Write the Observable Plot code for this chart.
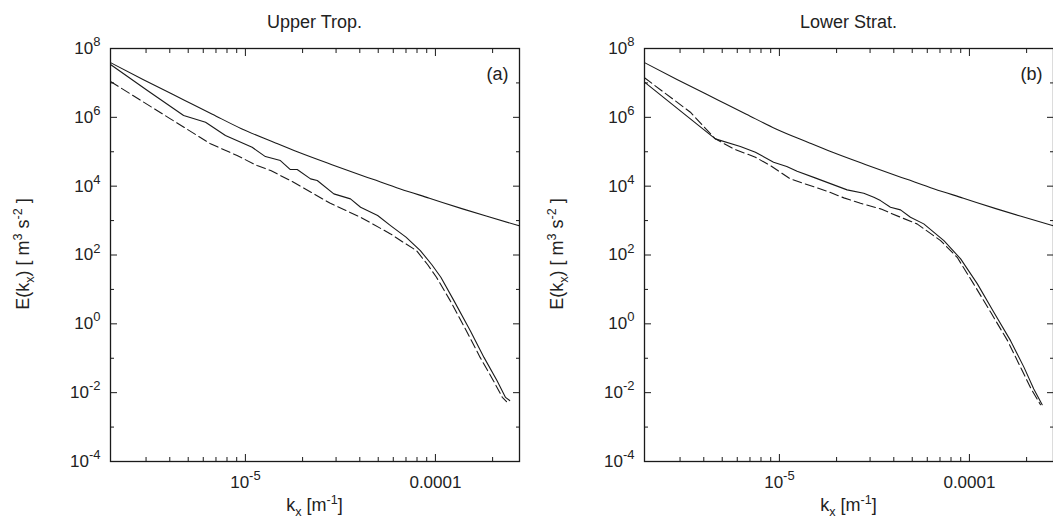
<!DOCTYPE html>
<html>
<head>
<meta charset="utf-8">
<script src="https://cdn.jsdelivr.net/npm/d3@7"></script>
<script src="https://cdn.jsdelivr.net/npm/@observablehq/plot@0.6"></script>
<style>
  html, body { margin: 0; padding: 0; background: #fff; overflow: hidden; }
  #wrap { position: relative; width: 1053px; height: 520px; overflow: hidden;
          font-family: "Liberation Sans", Arial, Helvetica, sans-serif; color: #222; }
  .panel { position: absolute; top: 0; width: 530px; height: 520px; }
  .title, .xlab { position: absolute; text-align: center; font-size: 18px; line-height: 18px; white-space: nowrap; }
  .title { top: 13px; }
  .xlab { top: 496px; }
  .ylab { position: absolute; top: 254px; font-size: 18px; line-height: 18px; white-space: nowrap;
          transform: translate(-50%, -50%) rotate(-90deg); }
  sup, sub { font-size: 0.7em; line-height: 0; }
</style>
</head>
<body>
<div id="wrap">
  <div id="left" class="panel" style="left:0px"></div>
  <div id="right" class="panel" style="left:530px"></div>
  <div class="title" style="left:110px;width:409px">Upper Trop.</div>
  <div class="title" style="left:644px;width:409px">Lower Strat.</div>
  <div class="xlab" style="left:110px;width:409px">k<sub>x</sub> [m<sup>-1</sup>]</div>
  <div class="xlab" style="left:644px;width:409px">k<sub>x</sub> [m<sup>-1</sup>]</div>
  <div class="ylab" style="left:23px">E(k<sub>x</sub>) [ m<sup>3</sup> s<sup>-2</sup> ]</div>
  <div class="ylab" style="left:557px">E(k<sub>x</sub>) [ m<sup>3</sup> s<sup>-2</sup> ]</div>
</div>
<script>
// ---- data ----
// reference spectrum (upper smooth solid line, same in both panels)
const refK = [1.95e-6, 2.89e-6, 4.80e-6, 6.70e-6, 9.53e-6, 1.42e-5, 1.89e-5, 2.83e-5, 4.69e-5, 6.54e-5, 9.30e-5, 1.39e-4, 1.85e-4, 2.76e-4];
const refE = [3.89e7, 1.26e7, 3.09e6, 1.23e6, 4.68e5, 1.86e5, 9.8e4, 4.27e4, 1.58e4, 8.3e3, 4.47e3, 2.19e3, 1.35e3, 708];

// (a) Upper Trop. solid
const aSolidK = [1.95e-6, 3.05e-6, 4.73e-6, 6.17e-6, 7.85e-6, 1.085e-5, 1.274e-5, 1.528e-5, 1.724e-5, 1.873e-5, 2.202e-5, 2.388e-5, 2.920e-5, 3.572e-5, 4.038e-5, 4.966e-5, 5.806e-5, 7.00e-5, 8.33e-5, 9.58e-5, 1.068e-4, 1.251e-4, 1.526e-4, 1.801e-4, 2.111e-4, 2.339e-4, 2.459e-4];
const aSolidE = [3.43e7, 6.01e6, 1.13e6, 7.21e5, 2.96e5, 1.35e5, 7.24e4, 5.55e4, 3.04e4, 3.04e4, 1.63e4, 1.46e4, 5.97e3, 4.28e3, 2.44e3, 1.4e3, 716, 330, 134, 52, 22.5, 4.72, 0.634, 0.106, 0.0223, 0.00729, 0.0059];
// (a) Upper Trop. dashed
const aDashK = [1.95e-6, 4.03e-6, 6.55e-6, 9.04e-6, 1.152e-5, 1.359e-5, 1.724e-5, 2.294e-5, 2.798e-5, 4.038e-5, 5.806e-5, 6.81e-5, 7.95e-5, 9.11e-5, 1.013e-4, 1.196e-4, 1.454e-4, 1.719e-4, 2.019e-4, 2.250e-4, 2.367e-4];
const aDashE = [1.10e7, 9.04e5, 1.70e5, 7.76e4, 3.97e4, 2.84e4, 1.46e4, 5.97e3, 3.18e3, 1.25e3, 410, 230, 134, 52, 22.5, 4.72, 0.634, 0.106, 0.0223, 0.0073, 0.0055];

// (b) Lower Strat. solid
const bSolidK = [1.95e-6, 4.60e-6, 6.23e-6, 7.48e-6, 9.32e-6, 1.093e-5, 1.239e-5, 1.541e-5, 2.272e-5, 2.779e-5, 3.139e-5, 3.403e-5, 3.841e-5, 4.339e-5, 4.894e-5, 5.75e-5, 7.34e-5, 8.99e-5, 1.101e-4, 1.344e-4, 1.646e-4, 1.938e-4, 2.181e-4, 2.415e-4];
const bSolidE = [1.05e7, 2.37e5, 1.42e5, 9.66e4, 4.95e4, 3.72e4, 2.71e4, 1.74e4, 7.80e3, 6.22e3, 4.75e3, 3.81e3, 2.44e3, 2.05e3, 1.25e3, 802, 262, 77.1, 14.5, 2.16, 0.325, 0.0543, 0.0128, 0.00448];
// (b) Lower Strat. dashed
const bDashK = [1.95e-6, 3.40e-6, 4.60e-6, 5.75e-6, 7.48e-6, 8.96e-6, 1.141e-5, 1.287e-5, 1.784e-5, 2.184e-5, 2.672e-5, 3.403e-5, 4.339e-5, 5.30e-5, 7.05e-5, 8.62e-5, 1.052e-4, 1.295e-4, 1.587e-4, 1.860e-4, 2.113e-4, 2.366e-4];
const bDashE = [1.41e7, 1.41e6, 2.37e5, 1.21e5, 6.92e4, 3.97e4, 1.63e4, 1.30e4, 7.11e3, 4.57e3, 3.18e3, 2.19e3, 1.25e3, 802, 262, 85.7, 14.5, 2.16, 0.325, 0.0543, 0.0128, 0.00448];

// axis range and ticks
const xDomain = [1.95e-6, 2.77e-4];
const yDomain = [1e-4, 1e8];
const xMajor = [1e-5, 1e-4];
const xTickLabels = ["10^-5", "0.0001"];
const xMinor = [3e-6, 4e-6, 5e-6, 6e-6, 7e-6, 8e-6, 9e-6, 2e-5, 3e-5, 4e-5, 5e-5, 6e-5, 7e-5, 8e-5, 9e-5, 2e-4];
const yMajor = [1e-4, 1e-2, 1, 1e2, 1e4, 1e6, 1e8];
const yTickLabels = ["10^-4", "10^-2", "10^0", "10^2", "10^4", "10^6", "10^8"];
const yMinor = [1e-3, 1e-1, 1e1, 1e3, 1e5, 1e7];

const panelTags = ["(a)", "(b)"];

// ---- drawing ----
const toRows = (K, E) => K.map((k, i) => ({k, E: E[i]}));
const ink = "#1a1a1a";

function panel(solidK, solidE, dashK, dashE, tag, marginLeft, marginRight) {
  const blank = () => "";
  const svg = Plot.plot({
    width: 530, height: 520,
    marginLeft, marginRight, marginTop: 48, marginBottom: 59,
    x: {type: "log", domain: xDomain, label: null},
    y: {type: "log", domain: yDomain, label: null},
    style: {fontFamily: '"Liberation Sans", Arial, Helvetica, sans-serif', fontSize: "17px", color: "#222", background: "transparent", overflow: "visible"},
    marks: [
      Plot.line(toRows(refK, refE), {x: "k", y: "E", stroke: ink, strokeWidth: 1.1, curve: "monotone-x", clip: true}),
      Plot.line(toRows(solidK, solidE), {x: "k", y: "E", stroke: ink, strokeWidth: 1.1, clip: true}),
      Plot.line(toRows(dashK, dashE), {x: "k", y: "E", stroke: ink, strokeWidth: 1.1, strokeDasharray: "9,4", clip: true}),
      // tick marks (inward)
      Plot.axisX({anchor: "bottom", ticks: xMajor, tickSize: -7, tickFormat: blank, stroke: ink}),
      Plot.axisX({anchor: "top", ticks: xMajor, tickSize: -7, tickFormat: blank, stroke: ink}),
      Plot.axisX({anchor: "bottom", ticks: xMinor, tickSize: -4, tickFormat: blank, stroke: ink}),
      Plot.axisX({anchor: "top", ticks: xMinor, tickSize: -4, tickFormat: blank, stroke: ink}),
      Plot.axisY({anchor: "left", ticks: yMajor, tickSize: -7, tickFormat: blank, stroke: ink}),
      Plot.axisY({anchor: "right", ticks: yMajor, tickSize: -7, tickFormat: blank, stroke: ink}),
      Plot.axisY({anchor: "left", ticks: yMinor, tickSize: -4, tickFormat: blank, stroke: ink}),
      Plot.axisY({anchor: "right", ticks: yMinor, tickSize: -4, tickFormat: blank, stroke: ink}),
      // tick labels
      Plot.axisX({anchor: "bottom", ticks: xMajor, tickSize: 0, tickPadding: 14,
                  tickFormat: d => xTickLabels[xMajor.indexOf(d)], fontSize: 17}),
      Plot.axisY({anchor: "left", ticks: yMajor, tickSize: 0, tickPadding: 10,
                  tickFormat: d => yTickLabels[yMajor.indexOf(d)], fontSize: 17}),
      Plot.frame({stroke: ink, strokeWidth: 1.3}),
      Plot.text([tag], {text: d => d, frameAnchor: "top-right", dx: -11, dy: 26, textAnchor: "end", lineAnchor: "middle", fontSize: 18, fill: "#222"})
    ]
  });
  // turn "10^n" labels into base + superscript
  const NS = "http://www.w3.org/2000/svg";
  svg.querySelectorAll("text").forEach(t => {
    const s = t.textContent;
    const i = s.indexOf("^");
    if (i < 0) return;
    t.textContent = "";
    const base = document.createElementNS(NS, "tspan");
    base.textContent = s.slice(0, i);
    const sup = document.createElementNS(NS, "tspan");
    sup.textContent = s.slice(i + 1);
    sup.setAttribute("font-size", "13");
    sup.setAttribute("dy", "-0.6em");
    t.append(base, sup);
  });
  return svg;
}

document.getElementById("left").append(panel(aSolidK, aSolidE, aDashK, aDashE, panelTags[0], 110, 11));
document.getElementById("right").append(panel(bSolidK, bSolidE, bDashK, bDashE, panelTags[1], 114, 7));
</script>
</body>
</html>
